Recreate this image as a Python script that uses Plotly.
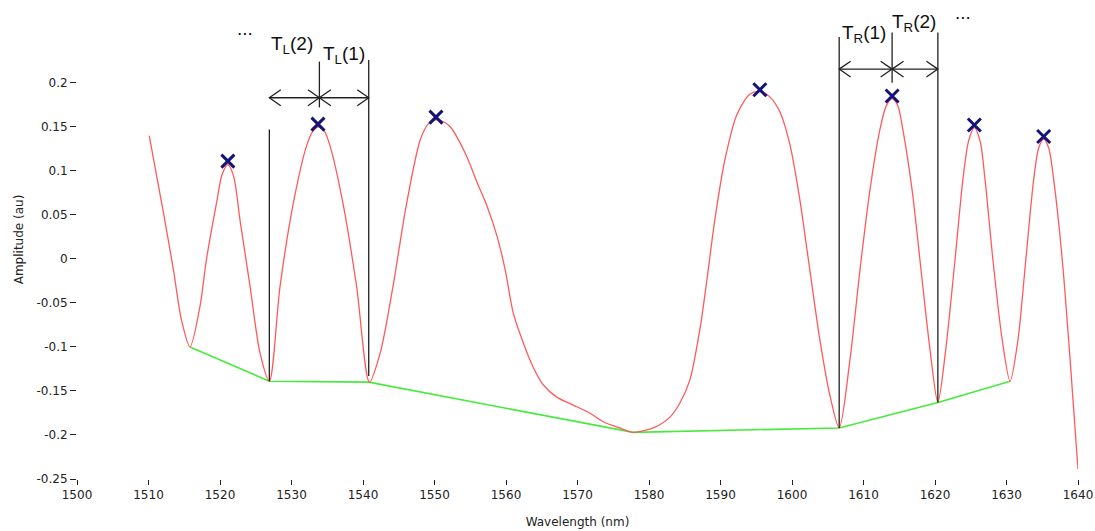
import plotly.graph_objects as go

# red spectrum (wavelength nm, amplitude au)
wavelength = [1510.1, 1512.1, 1513.5, 1514.6, 1515.8, 1517.2, 1518.1, 1519.5, 1520.3, 1521.1,
              1521.9, 1522.8, 1524.2, 1525.6, 1526.9, 1528.4, 1530.25, 1532.1, 1533.0, 1533.8,
              1534.6, 1535.4, 1537.2, 1539.1, 1540.9, 1542.4, 1544.2, 1546.1, 1548.0, 1549.1,
              1550.2, 1551.2, 1552.2, 1554.3, 1556.1, 1557.3, 1558.7, 1559.9, 1561.0, 1562.4,
              1563.8, 1565.2, 1567.1, 1569.4, 1571.7, 1573.6, 1575.9, 1577.8, 1580.6, 1582.9,
              1584.3, 1585.7, 1587.1, 1588.1, 1589.2, 1590.6, 1592.3, 1594.1, 1595.5, 1596.9,
              1598.3, 1599.7, 1601.1, 1602.5, 1603.9, 1605.3, 1606.6, 1608.1, 1609.5, 1610.9,
              1612.3, 1613.2, 1614.0, 1614.8, 1615.5, 1616.8, 1618.2, 1619.3, 1620.4, 1621.5,
              1622.8, 1623.9, 1624.7, 1625.5, 1626.3, 1627.0, 1628.1, 1629.4, 1630.5, 1631.6,
              1632.7, 1633.8, 1634.5, 1635.2, 1635.9, 1636.6, 1637.8, 1638.9, 1640.0]
amplitude = [0.140, 0.052, -0.013, -0.069, -0.100, -0.054, -0.001, 0.063, 0.096, 0.107,
             0.094, 0.044, -0.031, -0.107, -0.139, -0.031, 0.063, 0.128, 0.145, 0.150,
             0.145, 0.128, 0.063, -0.031, -0.140, -0.107, -0.031, 0.063, 0.135, 0.153,
             0.158, 0.156, 0.150, 0.120, 0.084, 0.061, 0.027, -0.013, -0.061, -0.095,
             -0.123, -0.143, -0.157, -0.166, -0.175, -0.185, -0.192, -0.197, -0.192, -0.180,
             -0.164, -0.138, -0.081, -0.024, 0.044, 0.112, 0.164, 0.187, 0.190, 0.184,
             0.167, 0.130, 0.067, -0.013, -0.092, -0.155, -0.192, -0.115, -0.013, 0.078,
             0.147, 0.174, 0.182, 0.174, 0.147, 0.078, -0.024, -0.103, -0.163, -0.103,
             -0.001, 0.090, 0.134, 0.149, 0.134, 0.090, -0.001, -0.092, -0.139, -0.092,
             -0.001, 0.090, 0.126, 0.136, 0.126, 0.090, -0.001, -0.115, -0.239]

# detected peaks (blue crosses)
peak_wl = [1521.1, 1533.7, 1550.2, 1595.5, 1614.0, 1625.5, 1635.2]
peak_amp = [0.111, 0.153, 0.161, 0.192, 0.185, 0.152, 0.139]

# green baseline through the minima
valley_wl = [1515.8, 1526.9, 1540.8, 1577.8, 1606.6, 1620.4, 1630.5]
valley_amp = [-0.100, -0.139, -0.140, -0.197, -0.192, -0.163, -0.139]

# period markers: vertical guide lines (wavelength, bottom, top)
guide_wl = [1526.9, 1533.9, 1540.8, 1606.6, 1614.0, 1620.4]
guide_bottom = [-0.139, 0.172, -0.133, -0.192, 0.200, -0.163]
guide_top = [0.147, 0.224, 0.226, 0.252, 0.257, 0.257]

# double arrows (start, end, level)
arrow_start = [1526.9, 1533.9, 1606.6, 1614.0]
arrow_end = [1533.9, 1540.8, 1614.0, 1620.4]
arrow_level = [0.183, 0.183, 0.2155, 0.2155]

labels = ['T<sub>L</sub>(2)', 'T<sub>L</sub>(1)', 'T<sub>R</sub>(1)', 'T<sub>R</sub>(2)', '...', '...']
label_wl = [1530.1, 1537.3, 1610.1, 1617.1, 1523.5, 1623.9]
label_amp = [0.243, 0.231, 0.255, 0.268, 0.262, 0.280]

x_ticks = list(range(1500, 1641, 10))
y_ticks = [0.2, 0.15, 0.1, 0.05, 0, -0.05, -0.1, -0.15, -0.2, -0.25]
y_ticktext = ['0.2', '0.15', '0.1', '0.05', '0', '-0.05', '-0.1', '-0.15', '-0.2', '-0.25']

fig = go.Figure()

fig.add_trace(go.Scatter(
    x=valley_wl, y=valley_amp, mode='lines',
    line=dict(color='rgb(70,235,60)', width=1.6),
    hoverinfo='skip'
))

fig.add_trace(go.Scatter(
    x=wavelength, y=amplitude, mode='lines',
    line=dict(color='rgb(255,90,90)', width=1.3, shape='spline', smoothing=0.8),
    hoverinfo='skip'
))

# guide lines + arrows with open chevron heads
head_dx = 1.6    # nm
head_dy = 0.009  # au
gx, gy = [], []
for w, b, t in zip(guide_wl, guide_bottom, guide_top):
    gx += [w, w, None]
    gy += [b, t, None]
for s, e, lv in zip(arrow_start, arrow_end, arrow_level):
    gx += [s, e, None]
    gy += [lv, lv, None]
    gx += [s + head_dx, s, s + head_dx, None]
    gy += [lv + head_dy, lv, lv - head_dy, None]
    gx += [e - head_dx, e, e - head_dx, None]
    gy += [lv + head_dy, lv, lv - head_dy, None]
fig.add_trace(go.Scatter(
    x=gx, y=gy, mode='lines',
    line=dict(color='#222222', width=1.3),
    hoverinfo='skip'
))

fig.add_trace(go.Scatter(
    x=peak_wl, y=peak_amp, mode='markers',
    marker=dict(symbol='x-thin', size=13, line=dict(color='#141478', width=3)),
    hoverinfo='skip'
))

annotations = []
for t, w, a in zip(labels, label_wl, label_amp):
    annotations.append(dict(
        x=w, y=a, xref='x', yref='y', text=t, showarrow=False,
        font=dict(family='Liberation Sans, Arial', size=19, color='#111111')
    ))

fig.update_layout(
    width=1095, height=531,
    paper_bgcolor='white', plot_bgcolor='white',
    showlegend=False,
    margin=dict(l=77, r=17, t=0, b=52),
    font=dict(family='DejaVu Sans', size=12, color='#222222'),
    annotations=annotations,
    xaxis=dict(
        range=[1500, 1640], tickvals=x_ticks, showgrid=False, zeroline=False,
        showline=False, ticks='outside', ticklen=5, tickcolor='#222222',
        tickfont=dict(size=12), ticklabeloverflow='allow',
        title=dict(text='Wavelength (nm)', font=dict(size=12), standoff=16)
    ),
    yaxis=dict(
        range=[-0.25, 0.294], tickvals=y_ticks, ticktext=y_ticktext,
        showgrid=False, zeroline=False, showline=False,
        ticks='outside', ticklen=6, tickcolor='#222222', tickfont=dict(size=12),
        title=dict(text='Amplitude (au)', font=dict(size=12), standoff=10)
    )
)

# page without the default body margin, so the figure fills the window
fig.write_html(
    "out.html",
    config={'displayModeBar': False},
    post_script="document.body.style.margin='0';document.body.style.overflow='hidden';"
)
